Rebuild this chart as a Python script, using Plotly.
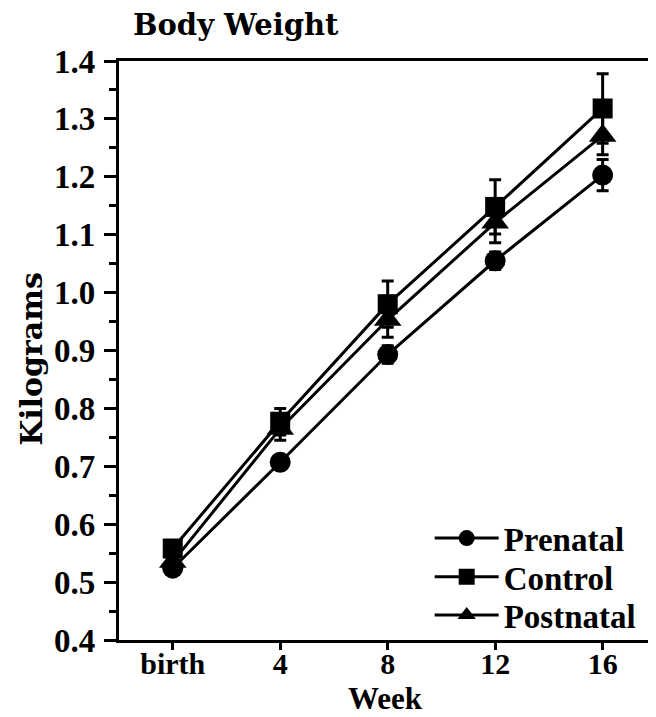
import plotly.graph_objects as go

weeks = [0, 4, 8, 12, 16]
week_labels = ["birth", "4", "8", "12", "16"]

prenatal = [0.524, 0.707, 0.893, 1.055, 1.203]
prenatal_err = [0.008, 0.010, 0.015, 0.015, 0.027]
control = [0.558, 0.777, 0.980, 1.148, 1.318]
control_err = [0.010, 0.023, 0.040, 0.047, 0.060]
postnatal = [0.535, 0.765, 0.953, 1.121, 1.271]
postnatal_err = [0.010, 0.020, 0.030, 0.035, 0.033]

y_ticks = [0.4, 0.5, 0.6, 0.7, 0.8, 0.9, 1.0, 1.1, 1.2, 1.3, 1.4]
y_labels = ["0.4", "0.5", "0.6", "0.7", "0.8", "0.9", "1.0", "1.1", "1.2", "1.3", "1.4"]

FONT = "Liberation Serif, Times New Roman, serif"
WIDE = "DejaVu Serif, serif"

def f(size, fam=FONT):
    return dict(family=fam, size=size, color="black", weight="bold")

series = [
    ("Prenatal", prenatal, prenatal_err, "circle", 21, "legend", 0.176),
    ("Control", control, control_err, "square", 20, "legend2", 0.109),
    ("Postnatal", postnatal, postnatal_err, "triangle-up", 24, "legend3", 0.043),
]

fig = go.Figure()
legends = {}
for name, vals, errs, sym, size, leg, ly in series:
    fig.add_trace(go.Scatter(
        x=weeks, y=vals, name=name, mode="lines+markers", legend=leg,
        line=dict(color="black", width=3),
        marker=dict(symbol=sym, size=size, color="black"),
        error_y=dict(type="data", array=errs, visible=True, color="black",
                     thickness=3, width=6),
    ))
    legends[leg] = dict(x=0.584, y=ly, xanchor="left", yanchor="middle",
                        bgcolor="rgba(0,0,0,0)", font=f(33), itemwidth=64,
                        borderwidth=0)

fig.update_layout(
    width=656, height=717,
    margin=dict(l=111, r=13, t=53, b=85),
    paper_bgcolor="white", plot_bgcolor="white",
    font=f(31),
    showlegend=True,
    **legends,
    xaxis=dict(
        range=[-2, 17.8], tickmode="array", tickvals=weeks, ticktext=week_labels,
        showline=True, linecolor="black", linewidth=3.3, mirror=True,
        ticks="outside", ticklen=7, tickwidth=3, tickcolor="black",
        showgrid=False, zeroline=False, automargin=False,
        tickfont=f(30), ticklabelstandoff=-12,
    ),
    yaxis=dict(
        range=[0.4, 1.4], tickmode="array", tickvals=y_ticks, ticktext=y_labels,
        showline=True, linecolor="black", linewidth=3.3, mirror=True,
        ticks="outside", ticklen=12, tickwidth=3, tickcolor="black",
        minor=dict(ticks="outside", ticklen=7, tickwidth=2.5, tickcolor="black",
                   dtick=0.05, showgrid=False),
        showgrid=False, zeroline=False, automargin=False,
        tickfont=f(33), ticklabelstandoff=2,
    ),
    annotations=[
        dict(text="Body Weight", xref="paper", yref="paper", x=0.0226, y=1.062,
             xanchor="left", yanchor="middle", showarrow=False, font=f(29, WIDE)),
        dict(text="Kilograms", xref="paper", yref="paper", x=-0.166, y=0.485,
             xanchor="center", yanchor="middle", textangle=-90, showarrow=False,
             font=f(30, WIDE)),
        dict(text="Week", xref="paper", yref="paper", x=0.5, y=-0.1347,
             xanchor="center", yanchor="bottom", showarrow=False, font=f(31)),
    ],
)

fig.write_html("out.html")
